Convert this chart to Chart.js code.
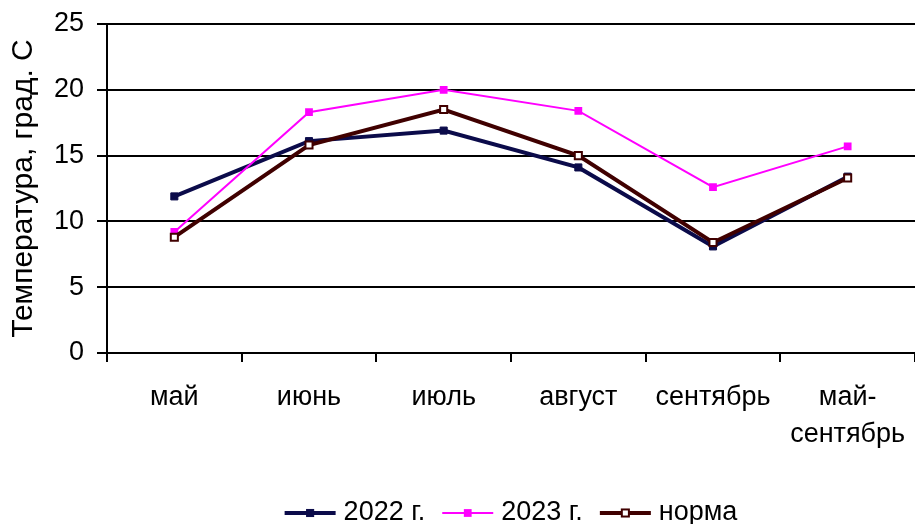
<!DOCTYPE html>
<html>
<head>
<meta charset="utf-8">
<script src="https://cdn.jsdelivr.net/npm/chart.js@4/dist/chart.umd.min.js"></script>
<style>
  html, body { margin: 0; padding: 0; background: #fff; }
  #wrap { width: 915px; height: 524px; position: relative; }
</style>
</head>
<body>
<div id="wrap"><canvas id="c"></canvas></div>
<script>
// Months of the growing season plus the season average
const categories = ['май', 'июнь', 'июль', 'август', 'сентябрь', ['май-', 'сентябрь']];

// Mean air temperature, °C
const temp2022 = [11.9, 16.1, 16.9, 14.1, 8.1, 13.4];
const temp2023 = [9.2, 18.3, 20.0, 18.4, 12.6, 15.7];
const tempNorm = [8.8, 15.8, 18.5, 15.0, 8.4, 13.3];

const seriesNames = ['2022 г.', '2023 г.', 'норма'];
const yTicks = [0, 5, 10, 15, 20, 25];

const FONT = 'Liberation Sans, Arial, sans-serif';
const NAVY = '#0b0b4a';
const MAGENTA = '#ff00ff';
const BROWN = '#400000';

const styles = [
  { color: NAVY, lineWidth: 4, radius: 5, fill: NAVY, border: 1 },
  { color: MAGENTA, lineWidth: 2, radius: 5.5, fill: MAGENTA, border: 0 },
  { color: BROWN, lineWidth: 4, radius: 5, fill: '#ffffff', border: 2 }
];
const seriesData = [temp2022, temp2023, tempNorm];

const datasets = seriesData.map((d, i) => ({
  label: seriesNames[i],
  data: d,
  borderColor: styles[i].color,
  borderWidth: styles[i].lineWidth,
  backgroundColor: styles[i].fill,
  pointStyle: 'rect',
  pointRadius: styles[i].radius,
  pointBorderWidth: styles[i].border,
  pointBorderColor: styles[i].color,
  pointBackgroundColor: styles[i].fill,
  pointHoverRadius: styles[i].radius,
  tension: 0,
  // later series sit on top
  order: 3 - i
}));

// Let the plot run to the right edge of the canvas
const fullWidthPlot = {
  id: 'fullWidthPlot',
  afterLayout(chart) {
    const area = chart.chartArea;
    area.right = chart.width;
    area.width = area.right - area.left;
    const x = chart.scales.x;
    x.right = chart.width;
    x.width = x.right - x.left;
    x.configure();
  }
};

// Legend under the plot, centred on the plot area: line with marker, then the name
const bottomLegend = {
  id: 'bottomLegend',
  afterDraw(chart) {
    const ctx = chart.ctx;
    const fontSize = 27;
    const lineLen = 51, gapText = 8, gapItem = 17;
    ctx.save();
    ctx.font = fontSize + 'px ' + FONT;
    const widths = seriesNames.map(n => ctx.measureText(n).width);
    let total = 0;
    widths.forEach((w, i) => { total += lineLen + gapText + w + (i < widths.length - 1 ? gapItem : 0); });
    const area = chart.chartArea;
    let x = (area.left + area.right - total) / 2;
    const y = 513;
    seriesNames.forEach((name, i) => {
      const s = styles[i];
      ctx.strokeStyle = s.color;
      ctx.lineWidth = s.lineWidth;
      ctx.beginPath();
      ctx.moveTo(x, y);
      ctx.lineTo(x + lineLen, y);
      ctx.stroke();
      const half = s.radius * Math.SQRT1_2;
      ctx.fillStyle = s.fill;
      ctx.fillRect(x + lineLen / 2 - half, y - half, half * 2, half * 2);
      if (s.border) {
        ctx.lineWidth = s.border;
        ctx.strokeStyle = s.color;
        ctx.strokeRect(x + lineLen / 2 - half, y - half, half * 2, half * 2);
      }
      ctx.fillStyle = '#000';
      ctx.textBaseline = 'middle';
      ctx.textAlign = 'left';
      ctx.fillText(name, x + lineLen + gapText, y);
      x += lineLen + gapText + widths[i] + gapItem;
    });
    ctx.restore();
  }
};

new Chart(document.getElementById('c'), {
  type: 'line',
  data: { labels: categories, datasets },
  plugins: [fullWidthPlot, bottomLegend],
  options: {
    responsive: true,
    maintainAspectRatio: false,
    animation: false,
    layout: { padding: { top: 24, right: 0, bottom: 0, left: 0 } },
    plugins: {
      legend: { display: false },
      tooltip: { enabled: false }
    },
    scales: {
      x: {
        type: 'category',
        offset: true,
        grid: {
          offset: true,
          drawOnChartArea: false,
          drawTicks: true,
          tickLength: 9,
          color: '#000',
          lineWidth: 2
        },
        border: { display: true, color: '#000', width: 2 },
        ticks: {
          color: '#000',
          font: { family: FONT, size: 27, lineHeight: 1.35 },
          padding: 17.5,
          maxRotation: 0,
          autoSkip: false
        },
        afterFit(scale) {
          scale.height = 171;
          scale.paddingLeft = 0;
          scale.paddingRight = 0;
        }
      },
      y: {
        min: 0,
        max: 25,
        afterBuildTicks(scale) { scale.ticks = yTicks.map(v => ({ value: v })); },
        grid: {
          color: '#000',
          lineWidth: 2,
          drawTicks: true,
          tickLength: 10
        },
        border: { display: true, color: '#000', width: 2 },
        ticks: {
          color: '#000',
          font: { family: FONT, size: 27 },
          padding: 13
        },
        title: {
          display: true,
          text: 'Температура, град. С',
          color: '#000',
          font: { family: FONT, size: 30 },
          padding: { top: 6, bottom: 0 }
        },
        afterFit(scale) {
          scale.width = 107;
          scale.paddingTop = 0;
          scale.paddingBottom = 0;
        }
      }
    }
  }
});
</script>
</body>
</html>
